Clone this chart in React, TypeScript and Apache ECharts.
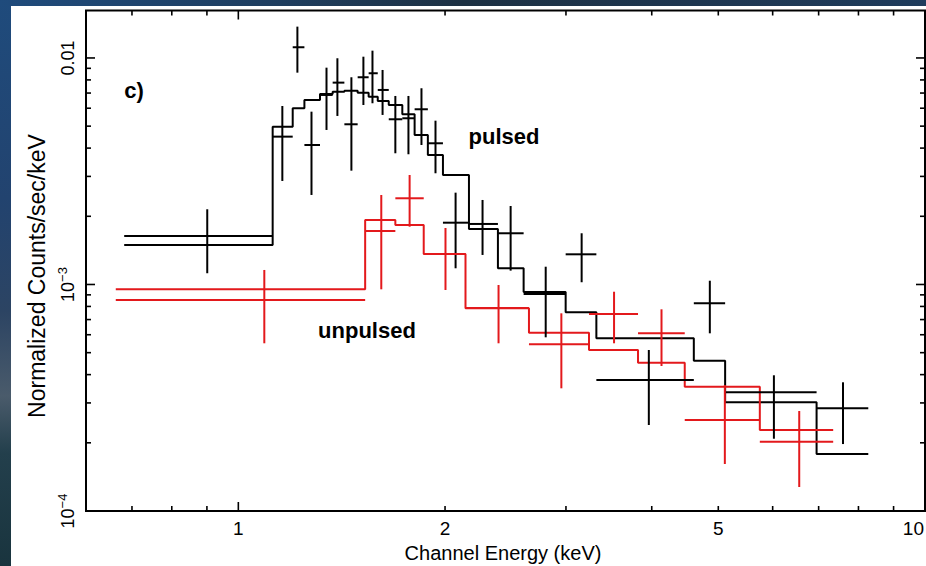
import React, { useEffect, useRef } from "react";
import * as echarts from "echarts";

// ---- axis ranges ----
const X_MIN = 0.6;
const X_MAX = 10;
const Y_MIN = 1e-4;
const Y_MAX = 0.0162;

// ---- tick values / labels ----
const xTickVals = [0.7, 0.8, 0.9, 1, 2, 3, 4, 5, 6, 7, 8, 9];
const xTickLabels = [1, 2, 5, 10];
const yTickVals = [2e-4, 3e-4, 4e-4, 5e-4, 6e-4, 7e-4, 8e-4, 9e-4, 1e-3, 2e-3, 3e-3, 4e-3, 5e-3, 6e-3, 7e-3, 8e-3, 9e-3, 1e-2];
const yTickLabels = [1e-4, 1e-3, 1e-2];

// ---- pulsed (black) ----
const blackEdges = [0.682, 1.122, 1.2, 1.248, 1.315, 1.372, 1.427, 1.492, 1.548, 1.596, 1.656, 1.733, 1.806, 1.888, 1.986, 2.167, 2.388, 2.603, 2.997, 3.322, 4.606, 5.116, 6.952, 8.268];
const blackEnergy = [0.901, 1.159, 1.219, 1.278, 1.344, 1.394, 1.461, 1.521, 1.568, 1.622, 1.693, 1.769, 1.848, 1.937, 2.072, 2.268, 2.492, 2.803, 3.162, 3.961, 4.86, 6.025, 7.596];
const blackRate = [1.637e-3, 4.494e-3, 1.115e-2, 4.129e-3, 6.865e-3, 7.782e-3, 5.096e-3, 8.219e-3, 8.56e-3, 7.224e-3, 5.362e-3, 5.417e-3, 5.936e-3, 4.201e-3, 1.874e-3, 1.85e-3, 1.683e-3, 9.08e-4, 1.359e-3, 3.788e-4, 8.26e-4, 3.342e-4, 2.84e-4];
const blackHigh = [2.148e-3, 6.138e-3, 1.375e-2, 5.793e-3, 9.061e-3, 9.97e-3, 8.219e-3, 1.013e-2, 1.077e-2, 8.851e-3, 6.796e-3, 6.796e-3, 7.35e-3, 5.286e-3, 2.543e-3, 2.361e-3, 2.221e-3, 1.198e-3, 1.683e-3, 5.137e-4, 1.039e-3, 3.973e-4, 3.7e-4];
const blackLow = [1.121e-3, 2.864e-3, 8.612e-3, 2.484e-3, 4.81e-3, 5.546e-3, 3.18e-3, 6.2e-3, 6.31e-3, 5.603e-3, 3.795e-3, 3.757e-3, 4.129e-3, 3.097e-3, 1.179e-3, 1.35e-3, 1.151e-3, 5.845e-4, 1.023e-3, 2.397e-4, 6.087e-4, 2.085e-4, 1.975e-4];
const blackModel = [1.494e-3, 4.973e-3, 5.996e-3, 6.525e-3, 6.936e-3, 7.099e-3, 7.171e-3, 7.028e-3, 6.748e-3, 6.459e-3, 6.2e-3, 5.643e-3, 4.571e-3, 3.73e-3, 3.044e-3, 1.758e-3, 1.179e-3, 9.27e-4, 7.54e-4, 5.787e-4, 4.607e-4, 3.019e-4, 1.785e-4];

// ---- unpulsed (red) ----
const redEdges = [0.663, 1.53, 1.693, 1.862, 2.142, 2.65, 3.241, 3.82, 4.468, 5.747, 7.35];
const redEnergy = [1.091, 1.615, 1.776, 2.003, 2.393, 2.954, 3.525, 4.133, 5.111, 6.559];
const redRate = [8.54e-4, 1.722e-3, 2.402e-3, 1.364e-3, 7.87e-4, 5.445e-4, 7.41e-4, 6.087e-4, 2.522e-4, 2.023e-4];
const redHigh = [1.159e-3, 2.484e-3, 3.044e-3, 1.776e-3, 9.95e-4, 7.46e-4, 9.29e-4, 7.77e-4, 3.6e-4, 2.763e-4];
const redLow = [5.5e-4, 9.52e-4, 1.799e-3, 9.456e-4, 5.5e-4, 3.48e-4, 5.5e-4, 4.366e-4, 1.612e-4, 1.276e-4];
const redModel = [9.52e-4, 1.926e-3, 1.831e-3, 1.364e-3, 7.86e-4, 6.125e-4, 5.137e-4, 4.515e-4, 3.538e-4, 2.279e-4];

const RED = "#e3191c";
const FONT = "Liberation Sans, Arial, Helvetica, sans-serif";

function stepPoints(edges: number[], model: number[]) {
  const pts: number[][] = [];
  for (let i = 0; i < model.length; i++) {
    pts.push([edges[i], model[i]]);
    pts.push([edges[i + 1], model[i]]);
  }
  return pts;
}

function errData(e: number[], r: number[], lo: number[], hi: number[], edges: number[]) {
  return e.map((x, i) => [x, r[i], edges[i], edges[i + 1], lo[i], hi[i]]);
}

function errSeries(data: number[][], color: string) {
  return {
    type: "custom",
    coordinateSystem: "cartesian2d",
    data,
    encode: { x: 0, y: 1 },
    z: 3,
    renderItem: (_p: any, api: any) => {
      const x = api.value(0), y = api.value(1);
      const pL = api.coord([api.value(2), y]);
      const pR = api.coord([api.value(3), y]);
      const pT = api.coord([x, api.value(5)]);
      const pB = api.coord([x, api.value(4)]);
      return {
        type: "group",
        children: [
          { type: "line", shape: { x1: pL[0], y1: pL[1], x2: pR[0], y2: pR[1] }, style: { stroke: color, lineWidth: 2 } },
          { type: "line", shape: { x1: pT[0], y1: pT[1], x2: pB[0], y2: pB[1] }, style: { stroke: color, lineWidth: 2 } },
        ],
      };
    },
  };
}

const isDecade = (v: number) => Math.abs(Math.log10(v) - Math.round(Math.log10(v))) < 1e-6;

export default function App() {
  const ref = useRef<HTMLDivElement>(null);
  useEffect(() => {
    if (!ref.current) return;
    const chart = echarts.init(ref.current, undefined, { renderer: "svg" });
    const option: any = {
      animation: false,
      backgroundColor: "transparent",
      grid: { left: 86, top: 10.5, right: 1, bottom: 55, show: true, borderColor: "#000", borderWidth: 2, backgroundColor: "#fff" },
      xAxis: {
        type: "log", min: X_MIN, max: X_MAX, logBase: 10,
        axisLine: { show: false }, axisTick: { show: false }, axisLabel: { show: false }, splitLine: { show: false },
      },
      yAxis: {
        type: "log", min: Y_MIN, max: Y_MAX, logBase: 10,
        axisLine: { show: false }, axisTick: { show: false }, axisLabel: { show: false }, splitLine: { show: false },
      },
      series: [
        {
          type: "line", data: stepPoints(blackEdges, blackModel), symbol: "none",
          lineStyle: { color: "#000", width: 2 }, z: 2, silent: true,
        },
        {
          type: "line", data: stepPoints(redEdges, redModel), symbol: "none",
          lineStyle: { color: RED, width: 2 }, z: 2, silent: true,
        },
        errSeries(errData(blackEnergy, blackRate, blackLow, blackHigh, blackEdges), "#000"),
        errSeries(errData(redEnergy, redRate, redLow, redHigh, redEdges), RED),
        {
          type: "custom", coordinateSystem: "cartesian2d", clip: false, silent: true,
          data: xTickVals.map((v) => [v, Y_MIN]), encode: { x: 0, y: 1 },
          renderItem: (_p: any, api: any) => {
            const v = api.value(0);
            const len = isDecade(v) ? 9 : 5;
            const b = api.coord([v, Y_MIN]);
            const t = api.coord([v, Y_MAX]);
            return {
              type: "group",
              children: [
                { type: "line", shape: { x1: b[0], y1: b[1], x2: b[0], y2: b[1] - len }, style: { stroke: "#000", lineWidth: 1.6 } },
                { type: "line", shape: { x1: t[0], y1: t[1], x2: t[0], y2: t[1] + len }, style: { stroke: "#000", lineWidth: 1.6 } },
              ],
            };
          },
        },
        {
          type: "custom", coordinateSystem: "cartesian2d", clip: false, silent: true,
          data: yTickVals.map((v) => [X_MIN, v]), encode: { x: 0, y: 1 },
          renderItem: (_p: any, api: any) => {
            const v = api.value(1);
            const len = isDecade(v) ? 9 : 5;
            const l = api.coord([X_MIN, v]);
            const r = api.coord([X_MAX, v]);
            return {
              type: "group",
              children: [
                { type: "line", shape: { x1: l[0], y1: l[1], x2: l[0] + len, y2: l[1] }, style: { stroke: "#000", lineWidth: 1.6 } },
                { type: "line", shape: { x1: r[0], y1: r[1], x2: r[0] - len, y2: r[1] }, style: { stroke: "#000", lineWidth: 1.6 } },
              ],
            };
          },
        },
        {
          type: "custom", coordinateSystem: "cartesian2d", clip: false, silent: true,
          data: xTickLabels.map((v) => [v, Y_MIN]), encode: { x: 0, y: 1 },
          renderItem: (_p: any, api: any) => {
            const v = api.value(0);
            const p = api.coord([v, Y_MIN]);
            const atEdge = v >= X_MAX;
            return {
              type: "text", x: atEdge ? p[0] - 1 : p[0], y: p[1] + 17,
              style: { text: String(v), fontSize: 19, fontFamily: FONT, fill: "#000", align: atEdge ? "right" : "center", verticalAlign: "middle" },
            };
          },
        },
        {
          type: "custom", coordinateSystem: "cartesian2d", clip: false, silent: true,
          data: yTickLabels.map((v) => [X_MIN, v]), encode: { x: 0, y: 1 },
          renderItem: (_p: any, api: any) => {
            const v = api.value(1);
            const p = api.coord([X_MIN, v]);
            const exp = Math.round(Math.log10(v));
            const text = exp >= -2 ? String(v) : "10{s|\u2212" + Math.abs(exp) + "}";
            return {
              type: "text", x: p[0] - 18, y: p[1], rotation: Math.PI / 2,
              style: {
                text, fontSize: 18, fontFamily: FONT, fill: "#000", align: "center", verticalAlign: "middle",
                rich: { s: { fontSize: 13, fontFamily: FONT, fill: "#000", padding: [0, 0, 12, 0] } },
              },
            };
          },
        },
      ],
      graphic: [
        { type: "text", x: 503, y: 553, style: { text: "Channel Energy (keV)", fontSize: 20, fontFamily: FONT, fill: "#000", align: "center", verticalAlign: "middle", textAlign: "center", textVerticalAlign: "middle" } },
        { type: "text", x: 37, y: 276, rotation: Math.PI / 2, style: { text: "Normalized Counts/sec/keV", fontSize: 23, fontFamily: FONT, fill: "#000", align: "center", verticalAlign: "middle", textAlign: "center", textVerticalAlign: "middle" } },
        { type: "text", x: 134, y: 90, style: { text: "c)", fontSize: 22, fontWeight: "bold", fontFamily: FONT, fill: "#000", align: "center", verticalAlign: "middle", textAlign: "center", textVerticalAlign: "middle" } },
        { type: "text", x: 504, y: 136, style: { text: "pulsed", fontSize: 22, fontWeight: "bold", fontFamily: FONT, fill: "#000", align: "center", verticalAlign: "middle", textAlign: "center", textVerticalAlign: "middle" } },
        { type: "text", x: 367, y: 330, style: { text: "unpulsed", fontSize: 22, fontWeight: "bold", fontFamily: FONT, fill: "#000", align: "center", verticalAlign: "middle", textAlign: "center", textVerticalAlign: "middle" } },
      ],
    };
    chart.setOption(option);
    return () => chart.dispose();
  }, []);

  return (
    <div style={{ position: "fixed", left: 0, top: 0, width: 926, height: 566, overflow: "hidden",
      background: "linear-gradient(to bottom, #1f4b7c 0%, #22436f 35%, #2c4463 55%, #4a5b6b 70%, #233f4c 80%, #19343e 100%)" }}>
      <div style={{ position: "absolute", left: 0, top: 0, width: 926, height: 6,
        background: "linear-gradient(to right, #1f4b7c 0%, #1f3e5f 30%, #1d3143 50%, #1e3650 75%, #1f3c5c 100%)" }} />
      <div style={{ position: "absolute", left: 11, top: 6, width: 915, height: 560, background: "#fff" }} />
      <div ref={ref} style={{ position: "absolute", left: 0, top: 0, width: 926, height: 566 }} />
    </div>
  );
}
